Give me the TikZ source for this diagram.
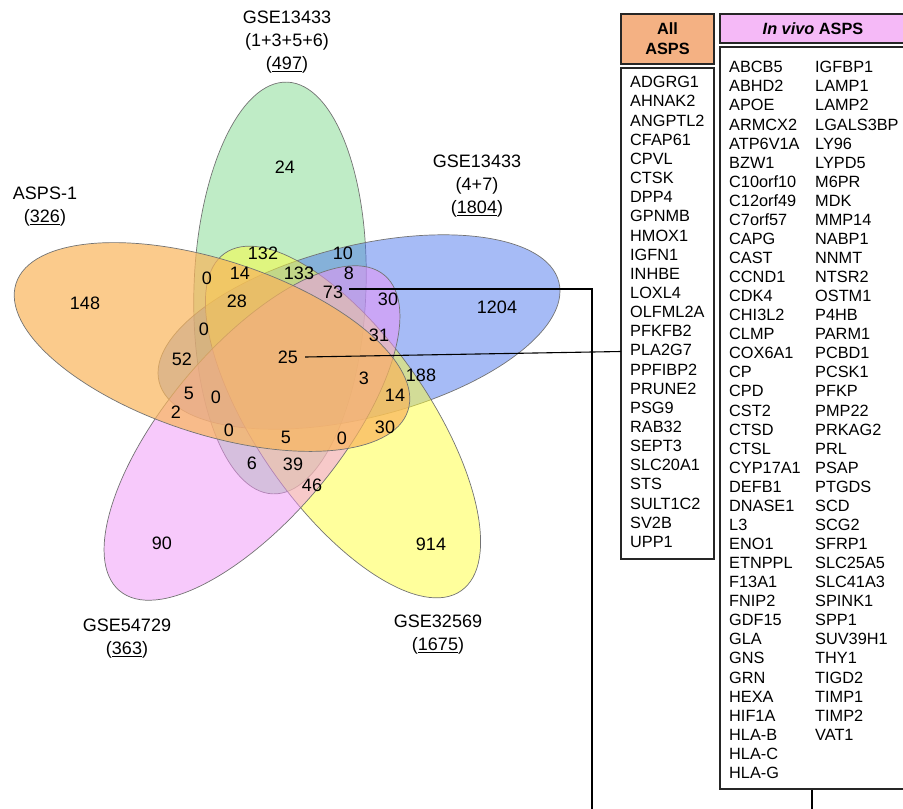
\documentclass[tikz,border=0pt]{standalone}
\usepackage{fontspec}
\setmainfont{Liberation Sans}
\definecolor{cOrange}{HTML}{F9B55B}
\definecolor{cGreen}{HTML}{7FD98D}
\definecolor{cBlue}{HTML}{4D77ED}
\definecolor{cYellow}{HTML}{FFFF39}
\definecolor{cPurple}{HTML}{EF93F7}
\definecolor{hdrAll}{HTML}{F4B183}
\definecolor{hdrVivo}{HTML}{F5B9F7}
\begin{document}
\begin{tikzpicture}[x=1pt,y=1pt,
  venn/.style={draw=black!55, line width=0.7pt, fill opacity=0.5},
  num/.style={font=\fontsize{18}{20}\selectfont, inner sep=1pt},
  setlbl/.style={font=\fontsize{18}{23}\selectfont, align=center, inner sep=0pt},
  gene/.style={font=\fontsize{16.3}{19}\selectfont, anchor=base west, inner sep=0pt},
  hdr/.style={draw=black!85, line width=1.1pt, align=center, inner sep=0pt,
              font=\fontsize{16.3}{20}\selectfont\bfseries},
  listbox/.style={draw=black!85, line width=1.1pt},
  link/.style={draw=black, line width=1.1pt}]

\useasboundingbox (0,0) rectangle (903,-809);
\clip (0,0) rectangle (903,-809);

% the five sets, drawn in stacking order
\path[venn, fill=cGreen,  rotate around={88:(280,-288)}]  (280,-288) ellipse [x radius=206, y radius=86];
\path[venn, fill=cBlue,   rotate around={14:(359,-332)}]  (359,-332) ellipse [x radius=206, y radius=86];
\path[venn, fill=cYellow, rotate around={-55:(343,-422)}] (343,-422) ellipse [x radius=206, y radius=86];
\path[venn, fill=cPurple, rotate around={50:(252,-433)}]  (252,-433) ellipse [x radius=206, y radius=86];
\path[venn, fill=cOrange, fill opacity=0.7, rotate around={-18:(212,-347)}] (212,-347) ellipse [x radius=206, y radius=87];

% set names
\node[setlbl] (sGreen)  at (287,-42)  {GSE13433\\(1+3+5+6)\\(\underline{497})};
\node[setlbl] (sBlue)   at (477,-186) {GSE13433\\(4+7)\\(\underline{1804})};
\node[setlbl] (sOrange) at (45,-207)  {ASPS-1\\(\underline{326})};
\node[setlbl] (sPurple) at (127,-639) {GSE54729\\(\underline{363})};
\node[setlbl] (sYellow) at (438,-635) {GSE32569\\(\underline{1675})};

% region counts
\node[num] (n24)   at (285,-167) {24};
\node[num] (n148)  at (85,-303)  {148};
\node[num] (n1204) at (497,-307) {1204};
\node[num] (n90)   at (162,-543) {90};
\node[num] (n914)  at (431,-544) {914};
\node[num] (n132)  at (263,-253) {132};
\node[num] (n10)   at (343,-253) {10};
\node[num] (z1)    at (207,-278) {0};
\node[num] (n14a)  at (240,-273) {14};
\node[num] (n133)  at (299,-273) {133};
\node[num] (n8)    at (349,-273) {8};
\node[num] (n73)   at (333,-292) {73};
\node[num] (n30a)  at (388,-299) {30};
\node[num] (n28)   at (237,-301) {28};
\node[num] (z2)    at (204,-329) {0};
\node[num] (n31)   at (379,-335) {31};
\node[num] (n52)   at (182,-359) {52};
\node[num] (n25)   at (288,-357) {25};
\node[num] (n3)    at (364,-378) {3};
\node[num] (n188)  at (421,-375) {188};
\node[num] (n5a)   at (189,-393) {5};
\node[num] (z3)    at (216,-397) {0};
\node[num] (n14b)  at (395,-395) {14};
\node[num] (n2)    at (176,-412) {2};
\node[num] (n30b)  at (385,-427) {30};
\node[num] (z4)    at (229,-430) {0};
\node[num] (n5b)   at (286,-437) {5};
\node[num] (z5)    at (342,-438) {0};
\node[num] (n6)    at (252,-463) {6};
\node[num] (n39)   at (293,-464) {39};
\node[num] (n46)   at (312,-485) {46};

% gene list headers and frames
\node[hdr, fill=hdrAll, minimum width=93pt, minimum height=50pt] (hAll) at (667.5,-39) {All\\ASPS};
\node[hdr, fill=hdrVivo, minimum width=186pt, minimum height=29pt] (hVivo) at (813,-28.5) {\textit{In vivo} ASPS};
\node[listbox, minimum width=93pt, minimum height=491pt, inner sep=0pt] (boxAll) at (667.5,-313.5) {};
\node[listbox, minimum width=186pt, minimum height=742pt, inner sep=0pt] (boxVivo) at (813,-418) {};

% gene lists
\foreach \g [count=\i from 0] in {ADGRG1,AHNAK2,ANGPTL2,CFAP61,CPVL,CTSK,DPP4,GPNMB,HMOX1,IGFN1,INHBE,LOXL4,OLFML2A,PFKFB2,PLA2G7,PPFIBP2,PRUNE2,PSG9,RAB32,SEPT3,SLC20A1,STS,SULT1C2,SV2B,UPP1}
  \node[gene] (ga\i) at (630,{-87.8-\i*19.15}) {\g};
\foreach \g [count=\i from 0] in {ABCB5,ABHD2,APOE,ARMCX2,ATP6V1A,BZW1,C10orf10,C12orf49,C7orf57,CAPG,CAST,CCND1,CDK4,CHI3L2,CLMP,COX6A1,CP,CPD,CST2,CTSD,CTSL,CYP17A1,DEFB1,DNASE1,L3,ENO1,ETNPPL,F13A1,FNIP2,GDF15,GLA,GNS,GRN,HEXA,HIF1A,HLA-B,HLA-C,HLA-G}
  \node[gene] (gb\i) at (729,{-72.8-\i*19.07}) {\g};
\foreach \g [count=\i from 0] in {IGFBP1,LAMP1,LAMP2,LGALS3BP,LY96,LYPD5,M6PR,MDK,MMP14,NABP1,NNMT,NTSR2,OSTM1,P4HB,PARM1,PCBD1,PCSK1,PFKP,PMP22,PRKAG2,PRL,PSAP,PTGDS,SCD,SCG2,SFRP1,SLC25A5,SLC41A3,SPINK1,SPP1,SUV39H1,THY1,TIGD2,TIMP1,TIMP2,VAT1}
  \node[gene] (gc\i) at (815,{-72.8-\i*19.07}) {\g};

% connectors
\coordinate (s25) at ([xshift=6pt]n25.east);
\coordinate (in25) at (621,-351.5);
\draw[link] (s25) -- (in25);
\coordinate (s73) at ([xshift=5pt]n73.east);
\coordinate (turn73) at (592,-289);
\coordinate (end73) at (592,-809);
\draw[link] (s73 |- turn73) -- (turn73) -- (end73);
\coordinate (endVivo) at (812,-809);
\draw[link] (boxVivo.south -| endVivo) -- (endVivo);
\end{tikzpicture}
\end{document}
